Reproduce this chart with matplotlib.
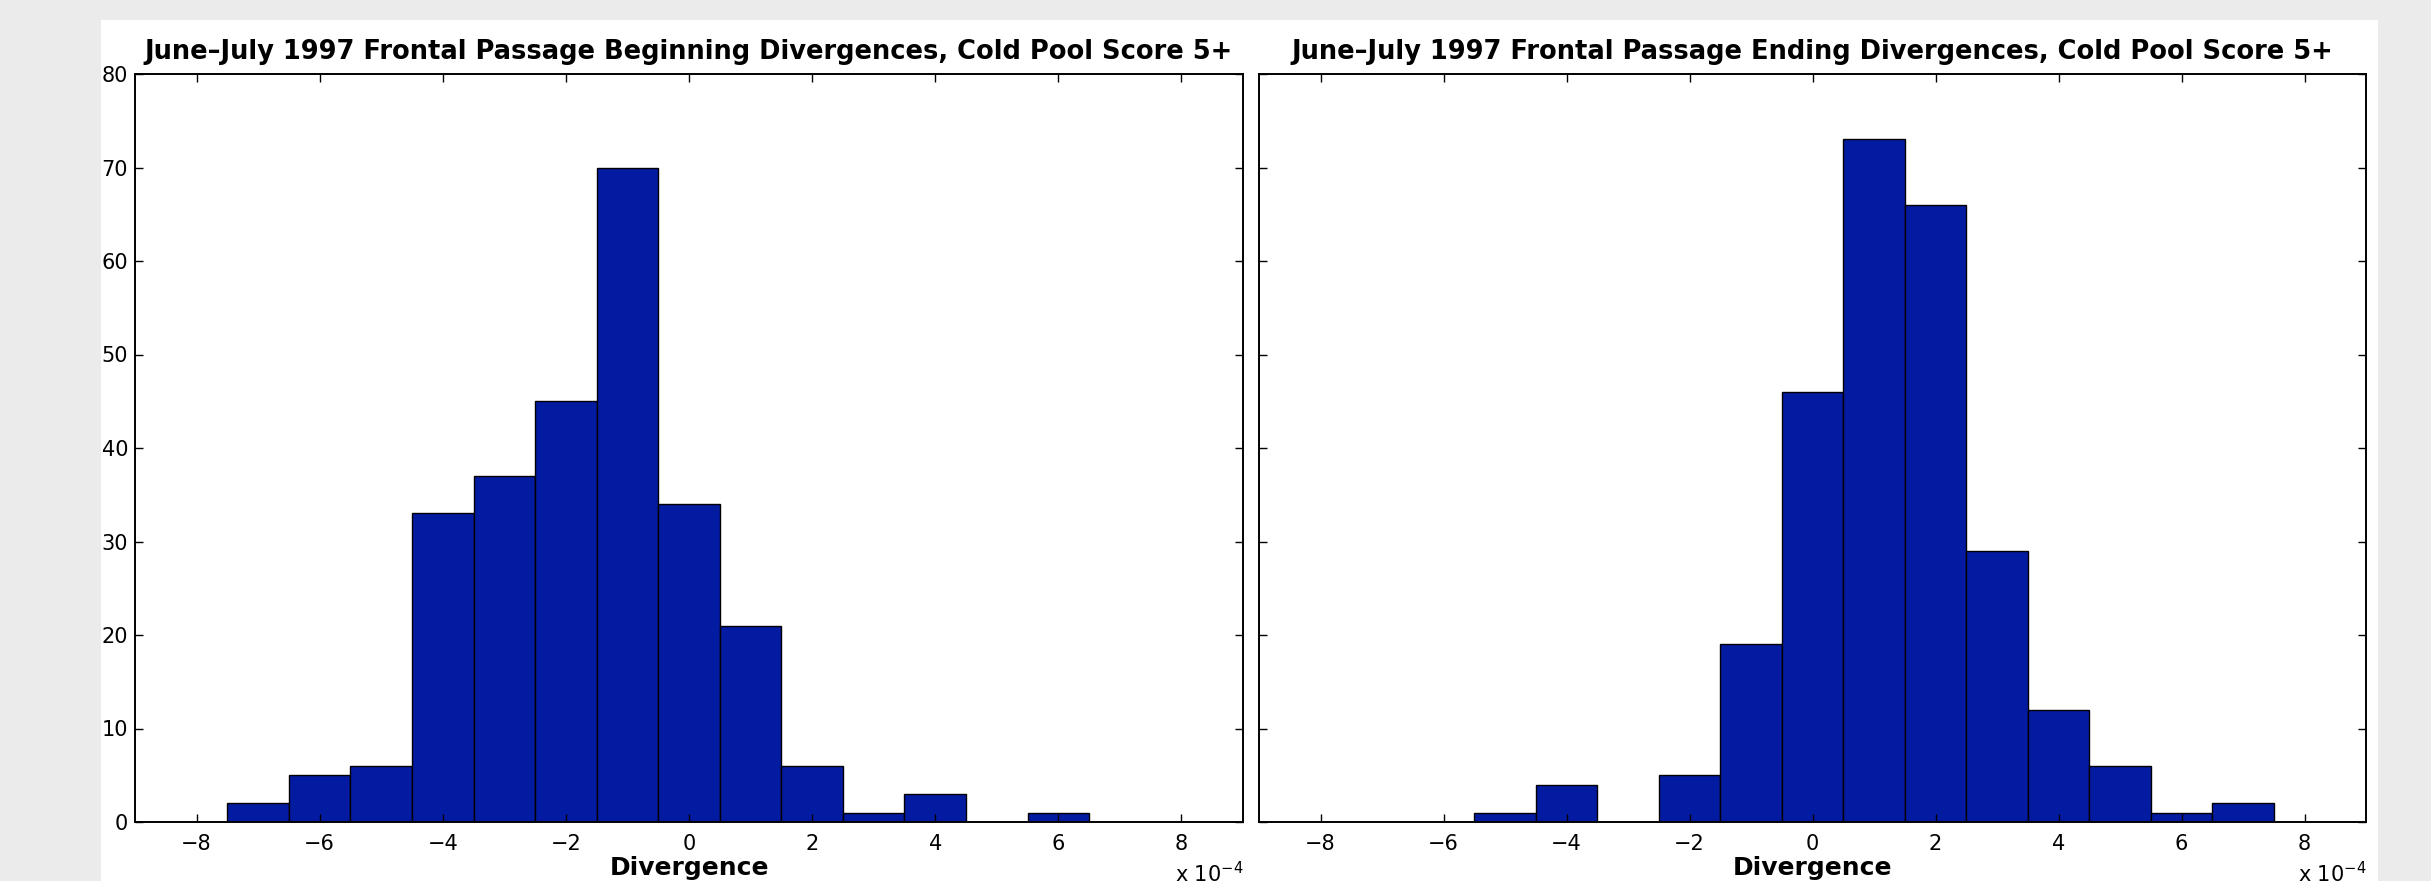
import matplotlib
matplotlib.use("Agg")
import matplotlib.pyplot as plt
from matplotlib.patches import Rectangle
import numpy as np

# bin centres are in units of 1e-4 (MATLAB style "x 10^-4" multiplier)
begin_centers = [-7, -6, -5, -4, -3, -2, -1, 0, 1, 2, 3, 4, 5, 6]
begin_counts = [2, 5, 6, 33, 37, 45, 70, 34, 21, 6, 1, 3, 0, 1]

end_centers = [-5, -4, -3, -2, -1, 0, 1, 2, 3, 4, 5, 6, 7]
end_counts = [1, 4, 0, 5, 19, 46, 73, 66, 29, 12, 6, 1, 2]

titles = [
    "June\u2013July 1997 Frontal Passage Beginning Divergences, Cold Pool Score 5+",
    "June\u2013July 1997 Frontal Passage Ending Divergences, Cold Pool Score 5+",
]
xticks = [-8, -6, -4, -2, 0, 2, 4, 6, 8]
yticks = [0, 10, 20, 30, 40, 50, 60, 70, 80]

# the reference text is rather wide, DejaVu Sans fits its extents best
plt.rcParams['font.family'] = ['DejaVu Sans']

W, H = 2431, 881
fig = plt.figure(figsize=(W / 100, H / 100), dpi=100, facecolor='#ebebeb')
# white panel behind the axes
fig.patches.append(Rectangle((101 / W, 0), (2378 - 101) / W, (881 - 20) / H,
                             transform=fig.transFigure, facecolor='white',
                             edgecolor='none', zorder=-10))

ax_l = fig.add_axes([135 / W, 59 / H, 1108 / W, 748 / H])
ax_r = fig.add_axes([1259 / W, 59 / H, 1107 / W, 748 / H])

bar_color = '#031ba1'
datasets = [(begin_centers, begin_counts), (end_centers, end_counts)]

for i, (ax, (cx, cy)) in enumerate(zip([ax_l, ax_r], datasets)):
    ax.bar(cx, cy, width=1.0, color=bar_color, edgecolor='black', linewidth=1.0)
    ax.set_xlim(-9, 9)
    ax.set_ylim(0, 80)
    ax.set_xticks(xticks)
    ax.set_xticklabels(["\u2212%d" % -t if t < 0 else "%d" % t for t in xticks])
    ax.set_yticks(yticks)
    ax.tick_params(direction='in', length=6, width=1.0, top=True, right=True,
                   labelsize=15, colors='black')
    ax.tick_params(axis='x', pad=9)
    ax.tick_params(axis='y', pad=5)
    if i == 1:
        ax.set_yticklabels([])
    for sp in ax.spines.values():
        sp.set_linewidth(1.4)
    ax.set_title(titles[i], fontsize=18.5, fontweight='bold', pad=11)
    ax.set_xlabel("Divergence", fontsize=18, fontweight='bold', labelpad=1)
    ax.text(1.0, -0.052, r"x 10$^{-4}$", transform=ax.transAxes,
            ha='right', va='top', fontsize=15)

fig.savefig("out.png", dpi=100, facecolor=fig.get_facecolor())
